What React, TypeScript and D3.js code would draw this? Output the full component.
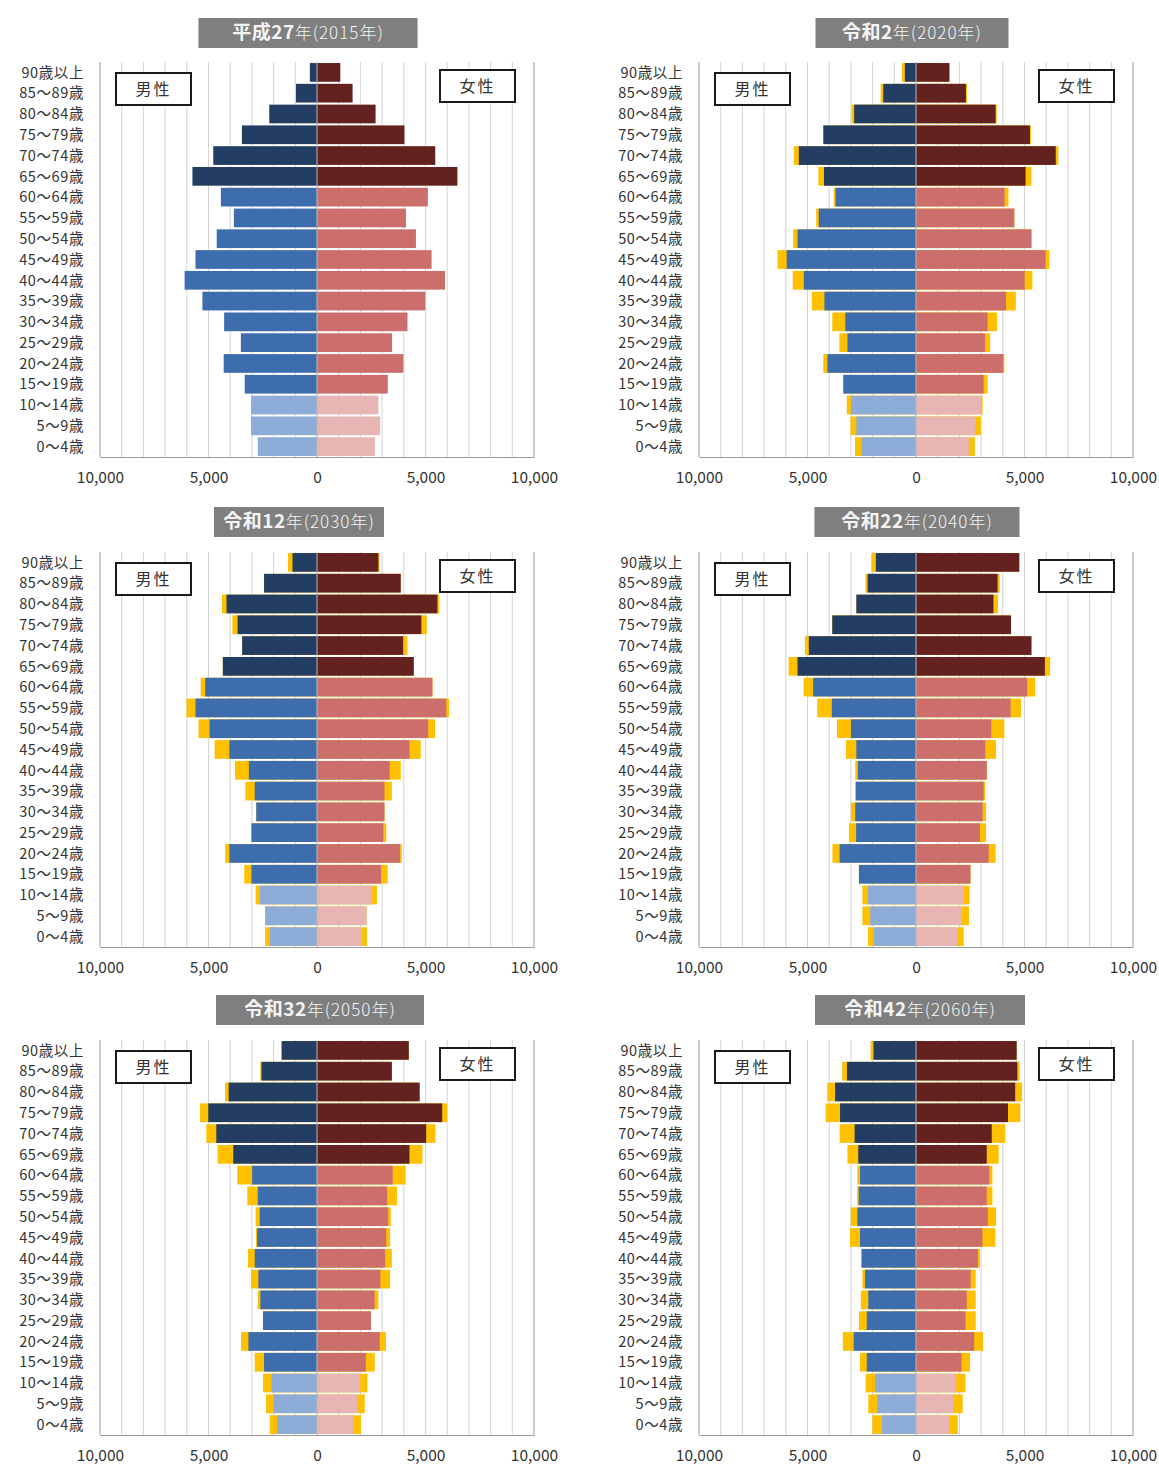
import React, { useEffect, useRef } from "react";
import * as d3 from "d3";

// age groups, top to bottom
const ages = [
  "90歳以上", "85～89歳", "80～84歳", "75～79歳", "70～74歳", "65～69歳",
  "60～64歳", "55～59歳", "50～54歳", "45～49歳", "40～44歳", "35～39歳",
  "30～34歳", "25～29歳", "20～24歳", "15～19歳", "10～14歳", "5～9歳", "0～4歳",
];

const titlesBold = ["平成27", "令和2", "令和12", "令和22", "令和32", "令和42"];
const titlesRest = ["年(2015年)", "年(2020年)", "年(2030年)", "年(2040年)", "年(2050年)", "年(2060年)"];
const xTicks = [-10000, -5000, 0, 5000, 10000];

const male2015 = [330, 970, 2200, 3460, 4780, 5740, 4430, 3830, 4620, 5600, 6100, 5280, 4280, 3510, 4300, 3330, 3040, 3040, 2730];
const female2015 = [1075, 1640, 2700, 4030, 5450, 6470, 5110, 4100, 4560, 5280, 5900, 4990, 4170, 3460, 3980, 3260, 2830, 2910, 2670];

const male2020 = [515, 1510, 2850, 4270, 5400, 4240, 3710, 4480, 5460, 5960, 5170, 4220, 3260, 3160, 4080, 3350, 3000, 2750, 2510];
const male2020Alt = [652, 1630, 2970, 4270, 5630, 4500, 3790, 4600, 5660, 6380, 5680, 4800, 3860, 3530, 4270, 3350, 3190, 3020, 2810];
const female2020 = [1540, 2300, 3670, 5250, 6440, 5050, 4080, 4530, 5320, 5970, 5010, 4150, 3300, 3180, 4020, 3120, 3000, 2730, 2440];
const female2020Alt = [1540, 2350, 3720, 5300, 6560, 5320, 4260, 4530, 5320, 6150, 5360, 4600, 3740, 3420, 4070, 3300, 3070, 2990, 2710];

const male2030 = [1130, 2440, 4170, 3660, 3450, 4340, 5150, 5600, 4950, 4040, 3140, 2870, 2800, 3020, 4040, 3020, 2630, 2390, 2180];
const male2030Alt = [1340, 2440, 4380, 3900, 3450, 4340, 5360, 6010, 5460, 4720, 3780, 3300, 2800, 3020, 4230, 3350, 2830, 2390, 2390];
const female2030 = [2830, 3860, 5550, 4810, 3970, 4460, 5320, 5960, 5120, 4260, 3350, 3110, 3110, 3060, 3830, 2950, 2540, 2280, 2060];
const female2030Alt = [2880, 3860, 5640, 5060, 4170, 4460, 5320, 6090, 5440, 4780, 3860, 3450, 3110, 3190, 3900, 3260, 2760, 2280, 2300];

const male2040 = [1850, 2230, 2750, 3860, 4940, 5460, 4740, 3880, 3000, 2750, 2680, 2780, 2800, 2760, 3520, 2630, 2210, 2110, 1940];
const male2040Alt = [2060, 2330, 2750, 3860, 5120, 5870, 5180, 4550, 3640, 3230, 2800, 2780, 3000, 3090, 3850, 2630, 2470, 2470, 2210];
const female2040 = [4760, 3760, 3570, 4380, 5320, 5940, 5120, 4360, 3470, 3190, 3260, 3120, 3070, 2950, 3350, 2510, 2210, 2090, 1890];
const female2040Alt = [4760, 3860, 3780, 4380, 5320, 6180, 5490, 4840, 4070, 3690, 3260, 3190, 3230, 3230, 3670, 2510, 2470, 2440, 2200];

const male2050 = [1630, 2560, 4070, 5010, 4640, 3860, 2990, 2730, 2640, 2760, 2870, 2700, 2610, 2490, 3160, 2440, 2100, 2010, 1840];
const male2050Alt = [1630, 2610, 4240, 5390, 5100, 4580, 3670, 3210, 2830, 2810, 3180, 3040, 2730, 2490, 3500, 2870, 2490, 2350, 2180];
const female2050 = [4230, 3450, 4730, 5770, 5030, 4260, 3490, 3230, 3280, 3190, 3140, 2920, 2660, 2490, 2890, 2250, 1990, 1850, 1680];
const female2050Alt = [4230, 3450, 4730, 5990, 5460, 4860, 4090, 3690, 3400, 3370, 3450, 3370, 2830, 2490, 3180, 2660, 2320, 2200, 2030];

const male2060 = [1960, 3180, 3730, 3500, 2830, 2660, 2580, 2640, 2700, 2580, 2510, 2350, 2200, 2270, 2870, 2270, 1890, 1790, 1580];
const male2060Alt = [2090, 3400, 4090, 4160, 3520, 3160, 2710, 2710, 3010, 3040, 2510, 2470, 2540, 2630, 3370, 2580, 2320, 2200, 2010];
const female2060 = [4640, 4670, 4570, 4240, 3490, 3260, 3380, 3260, 3310, 3060, 2850, 2520, 2340, 2280, 2680, 2100, 1850, 1720, 1550];
const female2060Alt = [4640, 4780, 4890, 4810, 4120, 3810, 3520, 3520, 3690, 3660, 2950, 2750, 2750, 2750, 3090, 2490, 2280, 2150, 1930];

const panels = [
  { male: male2015, female: female2015, maleAlt: null, femaleAlt: null },
  { male: male2020, female: female2020, maleAlt: male2020Alt, femaleAlt: female2020Alt },
  { male: male2030, female: female2030, maleAlt: male2030Alt, femaleAlt: female2030Alt },
  { male: male2040, female: female2040, maleAlt: male2040Alt, femaleAlt: female2040Alt },
  { male: male2050, female: female2050, maleAlt: male2050Alt, femaleAlt: female2050Alt },
  { male: male2060, female: female2060, maleAlt: male2060Alt, femaleAlt: female2060Alt },
];

const W = 1159;
const H = 1468;
const FONT = "'Noto Sans CJK JP', 'Noto Sans', sans-serif";

const maleColors = ["#243d63", "#3e6dae", "#8eacd8"];
const femaleColors = ["#63221f", "#cc6e6c", "#e7b5b4"];
const altColor = "#ffc000";
const ageGroup = (i: number) => (i < 6 ? 0 : i < 16 ? 1 : 2);

export default function App() {
  const ref = useRef<SVGSVGElement>(null);

  useEffect(() => {
    const svg = d3.select(ref.current);
    svg.selectAll("*").remove();

    const zeroX = [317, 916];
    const plotTop = [62, 552, 1040];
    const plotBottom = [457, 947, 1435];
    const titleY = [18, 507, 995];
    const titleW = [219, 193, 170, 205, 208, 210];
    const titleCx = [308, 912, 299, 917, 320, 920];
    const half = 217;

    panels.forEach((p, k) => {
      const col = k % 2;
      const row = Math.floor(k / 2);
      const z = zeroX[col];
      const g = svg.append("g");

      const x = d3.scaleLinear().domain([-10000, 10000]).range([z - half, z + half]);
      const y = d3.scaleBand().domain(ages).range([plotTop[row], plotBottom[row]]).paddingInner(0.1).paddingOuter(0.05);

      // gridlines
      const grid = d3.range(-10000, 10001, 1000);
      g.selectAll(".grid").data(grid).join("line")
        .attr("x1", d => x(d)).attr("x2", d => x(d))
        .attr("y1", plotTop[row]).attr("y2", plotBottom[row])
        .attr("stroke", d => (Math.abs(d) === 10000 ? "#9a9a9a" : "#d4d4d4"))
        .attr("stroke-width", 1);

      // yellow bars behind
      if (p.maleAlt) {
        g.selectAll(".ma").data(p.maleAlt).join("rect")
          .attr("x", d => x(-d)).attr("y", (d, i) => y(ages[i])!)
          .attr("width", d => x(0) - x(-d)).attr("height", y.bandwidth())
          .attr("fill", altColor);
        g.selectAll(".fa").data(p.femaleAlt!).join("rect")
          .attr("x", x(0)).attr("y", (d, i) => y(ages[i])!)
          .attr("width", d => x(d) - x(0)).attr("height", y.bandwidth())
          .attr("fill", altColor);
      }

      g.selectAll(".m").data(p.male).join("rect")
        .attr("x", d => x(-d)).attr("y", (d, i) => y(ages[i])!)
        .attr("width", d => x(0) - x(-d)).attr("height", y.bandwidth())
        .attr("fill", (d, i) => maleColors[ageGroup(i)]);
      g.selectAll(".f").data(p.female).join("rect")
        .attr("x", x(0)).attr("y", (d, i) => y(ages[i])!)
        .attr("width", d => x(d) - x(0)).attr("height", y.bandwidth())
        .attr("fill", (d, i) => femaleColors[ageGroup(i)]);

      // zero line
      g.append("line")
        .attr("x1", x(0)).attr("x2", x(0))
        .attr("y1", plotTop[row]).attr("y2", plotBottom[row])
        .attr("stroke", "#b9b9b9").attr("stroke-width", 1);

      // x axis
      const axis = g.append("g")
        .attr("transform", `translate(0,${plotBottom[row]})`)
        .call(d3.axisBottom(x).tickValues(xTicks).tickSize(0).tickPadding(15).tickFormat(d => d3.format(",")(Math.abs(+d))));
      axis.select(".domain").attr("stroke", "#9a9a9a");
      axis.selectAll("text").attr("font-size", 15.5).attr("fill", "#333").attr("font-family", FONT);

      // age labels
      g.selectAll(".age").data(ages).join("text")
        .attr("x", z - 233).attr("y", d => y(d)! + y.bandwidth() / 2)
        .attr("dy", "0.36em").attr("text-anchor", "end")
        .attr("font-size", 14.5).attr("fill", "#333").attr("font-family", FONT)
        .attr("letter-spacing", 0.6)
        .text(d => d);

      // title box
      g.append("rect")
        .attr("x", titleCx[k] - titleW[k] / 2).attr("y", titleY[row])
        .attr("width", titleW[k]).attr("height", 30)
        .attr("fill", "#7f7f7f");
      const t = g.append("text")
        .attr("x", titleCx[k]).attr("y", titleY[row] + 15).attr("dy", "0.36em")
        .attr("text-anchor", "middle").attr("font-family", FONT).attr("fill", "#f4f4f4");
      t.append("tspan").attr("font-size", 19).attr("font-weight", 700).attr("letter-spacing", 0.5).text(titlesBold[k]);
      t.append("tspan").attr("font-size", 17).attr("font-weight", 300).attr("letter-spacing", 1).text(titlesRest[k]);

      // 男性 / 女性 boxes
      const boxes = [
        { label: "男性", x0: z - 201, y0: plotTop[row] + 11 },
        { label: "女性", x0: z + 123, y0: plotTop[row] + 8 },
      ];
      boxes.forEach(b => {
        g.append("rect")
          .attr("x", b.x0).attr("y", b.y0).attr("width", 75).attr("height", 32)
          .attr("fill", "#fff").attr("stroke", "#1a1a1a").attr("stroke-width", 2);
        g.append("text")
          .attr("x", b.x0 + 37.5).attr("y", b.y0 + 16).attr("dy", "0.36em")
          .attr("text-anchor", "middle").attr("font-size", 16).attr("fill", "#333")
          .attr("font-family", FONT).attr("letter-spacing", 2).text(b.label);
      });
    });
  }, []);

  return (
    <div style={{ position: "absolute", left: 0, top: 0 }}>
      <svg ref={ref} width={W} height={H} style={{ display: "block", background: "#fff" }} />
    </div>
  );
}
